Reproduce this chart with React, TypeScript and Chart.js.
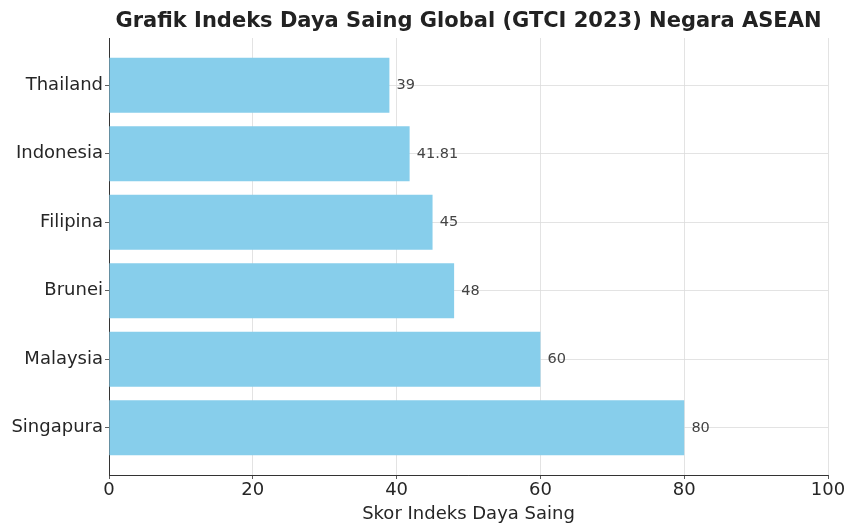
import React, { useEffect, useRef } from "react";
import { Chart, registerables } from "chart.js";

Chart.register(...registerables);

const countries = ["Singapura", "Malaysia", "Brunei", "Filipina", "Indonesia", "Thailand"];
const scores = [80, 60, 48, 45, 41.81, 39];
const xTicks = [0, 20, 40, 60, 80, 100];
const titleText = "Grafik Indeks Daya Saing Global (GTCI 2023) Negara ASEAN";
const xLabel = "Skor Indeks Daya Saing";

const FONT = "'DejaVu Sans', sans-serif";

const valueLabels = {
  id: "valueLabels",
  afterDatasetsDraw(chart: any) {
    const ctx = chart.ctx;
    const xs = chart.scales.x;
    const ys = chart.scales.y;
    ctx.save();
    ctx.font = `14.5px ${FONT}`;
    ctx.fillStyle = "#444";
    ctx.textAlign = "left";
    ctx.textBaseline = "middle";
    scores.forEach((v, i) => {
      const px = xs.getPixelForValue(v + 1);
      const py = ys.getPixelForValue(i);
      ctx.fillText(String(v), px, py);
    });
    ctx.restore();
  },
};

export default function App() {
  const ref = useRef<HTMLCanvasElement>(null);
  useEffect(() => {
    if (!ref.current) return;
    const chart = new Chart(ref.current, {
      type: "bar",
      data: {
        datasets: [
          {
            data: scores.map((v, i) => ({ x: v, y: i })),
            backgroundColor: "#87CEEB",
            borderWidth: 0,
            barPercentage: 0.8,
            categoryPercentage: 1,
          },
        ],
      },
      options: {
        indexAxis: "y",
        responsive: false,
        animation: false,
        layout: { padding: { left: 0, right: 20, top: 0, bottom: 0 } },
        plugins: {
          legend: { display: false },
          tooltip: { enabled: false },
          title: {
            display: true,
            fullSize: false,
            text: titleText,
            color: "#222",
            font: { family: FONT, size: 21, weight: "bold", lineHeight: 1.2 },
            padding: { top: 9, bottom: 3.8 },
          },
        },
        scales: {
          x: {
            type: "linear",
            min: 0,
            max: 100,
            offset: false,
            afterBuildTicks: (axis: any) => {
              axis.ticks = xTicks.map((v) => ({ value: v }));
            },
            afterFit: (axis: any) => {
              axis.height = 50;
            },
            grid: {
              color: "#dcdcdc",
              lineWidth: 0.8,
              borderDash: [3, 2],
              tickColor: "#333",
              tickLength: 4,
              tickBorderDash: [],
              offset: false,
            },
            border: { display: true, color: "#333", width: 1 },
            ticks: {
              color: "#262626",
              font: { family: FONT, size: 18 },
              padding: 1,
              maxRotation: 0,
            },
            title: {
              display: true,
              text: xLabel,
              color: "#262626",
              font: { family: FONT, size: 18 },
              padding: { top: 0, bottom: 0 },
            },
          },
          y: {
            type: "linear",
            min: -0.69,
            max: 5.69,
            offset: false,
            afterBuildTicks: (axis: any) => {
              axis.ticks = countries.map((_, i) => ({ value: i }));
            },
            afterFit: (axis: any) => {
              axis.width = 109;
            },
            grid: {
              color: "#dcdcdc",
              lineWidth: 0.8,
              borderDash: [3, 2],
              tickColor: "#333",
              tickLength: 4,
              tickBorderDash: [],
              offset: false,
            },
            border: { display: true, color: "#333", width: 1 },
            ticks: {
              color: "#262626",
              font: { family: FONT, size: 18 },
              padding: 2,
              callback: (v: any) => countries[Math.round(Number(v))] ?? "",
            },
          },
        },
      },
      plugins: [valueLabels],
    } as any);
    return () => chart.destroy();
  }, []);
  return (
    <div style={{ position: "fixed", left: 0, top: 0, background: "#fff" }}>
      <canvas ref={ref} width={848} height={525} />
    </div>
  );
}
